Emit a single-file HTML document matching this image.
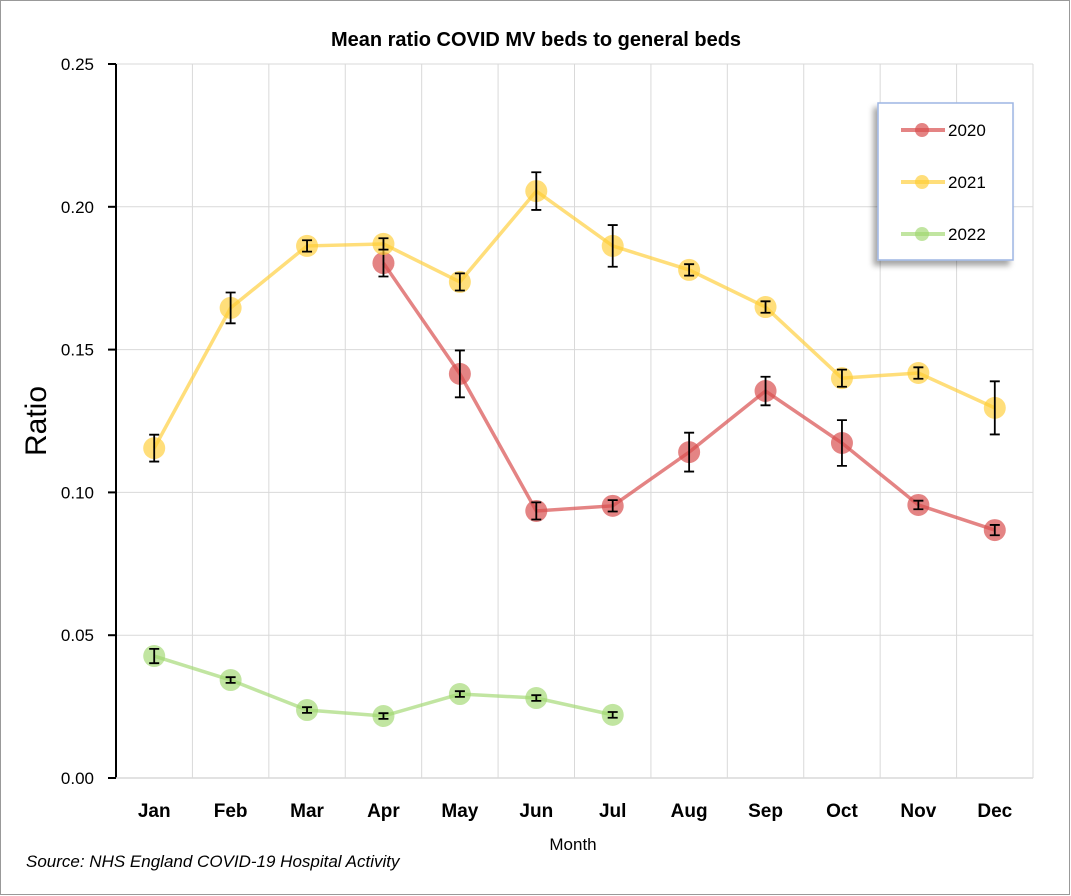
<!DOCTYPE html>
<html><head><meta charset="utf-8"><style>
body{margin:0;background:#fff;}
svg{display:block;font-family:"Liberation Sans",Calibri,sans-serif;}
</style></head><body>
<svg id="chart" width="1071" height="896">
<rect x="0.5" y="0.5" width="1069" height="894" fill="#fff" stroke="#999"/>
<text x="536" y="46" text-anchor="middle" font-size="20" font-weight="bold">Mean ratio COVID MV beds to general beds</text>
<g id="grid"></g><g id="axes"></g><g id="series"></g>
<text transform="translate(46,421) rotate(-90)" text-anchor="middle" font-size="30">Ratio</text>
<text x="573" y="850" text-anchor="middle" font-size="17">Month</text>
<text x="26" y="867" font-size="17" font-style="italic">Source: NHS England COVID-19 Hospital Activity</text>
<defs><filter id="sh" x="-20%" y="-20%" width="150%" height="150%"><feDropShadow dx="-4" dy="5" stdDeviation="3" flood-color="#000" flood-opacity="0.35"/></filter></defs>
<g>
<rect x="878" y="103" width="135" height="157" fill="#fff" stroke="#9db5e3" stroke-width="1.5" filter="url(#sh)"/>
<g id="legend"></g>
</g>
</svg>
<script>
const months=["Jan","Feb","Mar","Apr","May","Jun","Jul","Aug","Sep","Oct","Nov","Dec"];
const yTicks=[0,0.05,0.10,0.15,0.20,0.25];
const seriesNames=["2020","2021","2022"];
const v2020=[null,null,null,0.1803,0.1415,0.0935,0.0953,0.1141,0.1355,0.1173,0.0956,0.0868];
const e2020=[null,null,null,0.0047,0.0082,0.003,0.002,0.0068,0.005,0.008,0.0015,0.0018];
const v2021=[0.1155,0.1646,0.1863,0.187,0.1737,0.2055,0.1863,0.1779,0.1649,0.140,0.1418,0.1296];
const e2021=[0.0047,0.0054,0.002,0.002,0.003,0.0066,0.0073,0.002,0.002,0.003,0.002,0.0093];
const v2022=[0.0427,0.0343,0.0238,0.0217,0.0294,0.028,0.0221,null,null,null,null,null];
const e2022=[0.0025,0.001,0.001,0.001,0.001,0.001,0.001,null,null,null,null,null];
const colors=["rgba(216,80,80,0.7)","rgba(255,204,51,0.65)","rgba(160,215,110,0.65)"];
const L=116,R=1033,T=64,B=778,cw=(R-L)/12;
const X=i=>L+cw*(i+0.5), Y=v=>B-(v/0.25)*(B-T);
const NS="http://www.w3.org/2000/svg";
function mk(p,t,a){const e=document.createElementNS(NS,t);for(const k in a)e.setAttribute(k,a[k]);p.appendChild(e);return e;}
const grid=document.getElementById('grid'),axes=document.getElementById('axes'),ser=document.getElementById('series'),leg=document.getElementById('legend');
yTicks.forEach(t=>{const y=Y(t);
 if(t>0){const g=mk(grid,'line',{x1:L,x2:R,y1:y,y2:y,stroke:'#d9d9d9'});
 
 }
 mk(axes,'line',{x1:L-8,x2:L,y1:y,y2:y,stroke:'#000','stroke-width':2});
 const tx=mk(axes,'text',{x:L-22,y:y+6,'text-anchor':'end','font-size':17});tx.textContent=t.toFixed(2);
 
 });
months.forEach((m,i)=>{const x=L+cw*(i+1);
 const g=mk(grid,'line',{x1:x,x2:x,y1:T,y2:B,stroke:'#d9d9d9'});
 
 
 const tx=mk(axes,'text',{x:X(i),y:817,'text-anchor':'middle','font-size':19,'font-weight':'bold'});tx.textContent=m;
 
 });
mk(axes,'line',{x1:L,x2:L,y1:T,y2:B,stroke:'#000','stroke-width':2});
mk(axes,'line',{x1:L,x2:R,y1:B,y2:B,stroke:'#d9d9d9','stroke-width':1.5});
[[v2020,e2020],[v2021,e2021],[v2022,e2022]].forEach(([vals,errs],s)=>{
 const g=mk(ser,'g',{});
 
 
 let d='';vals.forEach((v,i)=>{if(v!=null)d+=(d?'L':'M')+X(i)+','+Y(v);});
 mk(g,'path',{d:d,fill:'none',stroke:colors[s],'stroke-width':3.5});
 vals.forEach((v,i)=>{if(v==null)return;
  const c=mk(g,'circle',{cx:X(i),cy:Y(v),r:11,fill:colors[s]});
  
  
  const y1=Y(v+errs[i]),y2=Y(v-errs[i]),x=X(i);
  mk(g,'path',{d:`M${x},${y1}V${y2}M${x-5},${y1}H${x+5}M${x-5},${y2}H${x+5}`,stroke:'#000','stroke-width':1.8,fill:'none'});
 });
 const ly=130+s*52;
 mk(leg,'line',{x1:901,x2:945,y1:ly,y2:ly,stroke:colors[s],'stroke-width':4});
 mk(leg,'circle',{cx:922,cy:ly,r:7,fill:colors[s]});
 const t=mk(leg,'text',{x:948,y:ly+6,'font-size':17});t.textContent=seriesNames[s];
 
 
});
</script>
</body></html>
